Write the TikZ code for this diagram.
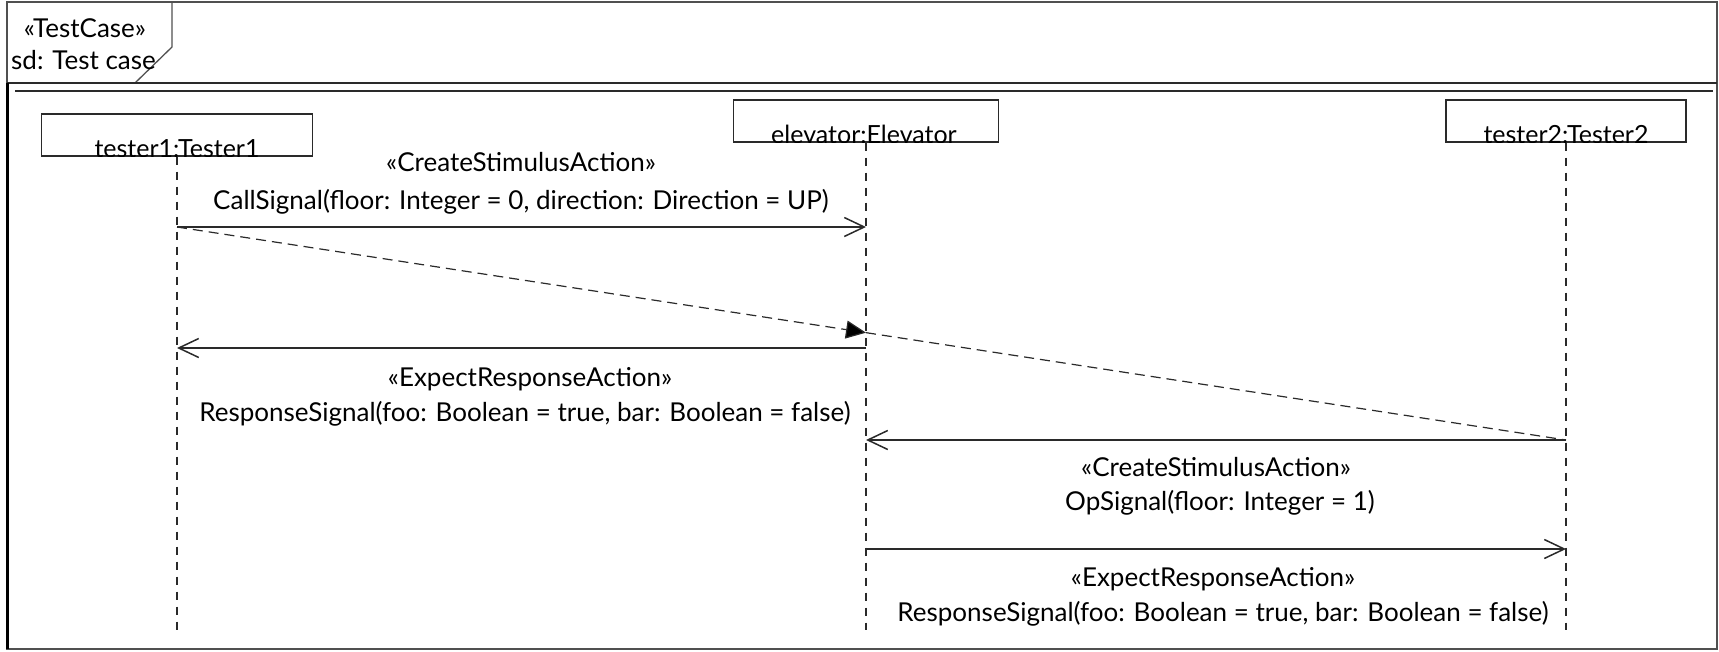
\documentclass[tikz,border=0pt]{standalone}
\usepackage{fontspec}
\setmainfont{Lato}
\usetikzlibrary{arrows.meta,calc}

\newcommand\msgfont{\fontsize{26}{31}\selectfont}
\newcommand\headfont{\fontsize{25}{30}\selectfont}
\newcommand\tabfont{\fontsize{26}{31}\selectfont}
\definecolor{linecol}{HTML}{2A2A2A}
\definecolor{framecol}{HTML}{505050}

\tikzset{
  headbox/.style={draw=linecol, line width=1.3pt, inner sep=0pt, minimum height=42pt},
  headtext/.style={font=\headfont, anchor=base, inner sep=0pt},
  lifeline/.style={draw=linecol, line width=1.3pt, dash pattern=on 8pt off 7pt},
  msg/.style={draw=linecol, line width=1.5pt, -{Straight Barb[length=20pt,width=19pt,line width=1.5pt]}},
  ordering/.style={draw=linecol, line width=1.2pt, dash pattern=on 10pt off 6pt},
  lbl/.style={font=\msgfont, anchor=base, inner sep=0pt},
  tablbl/.style={font=\tabfont, inner sep=0pt}
}

\begin{document}
\begin{tikzpicture}[x=1pt, y=-1pt]
\useasboundingbox (0,0) rectangle (1719,651);

% diagram frame with its name tab
\draw[framecol, line width=1.3pt] (7,2) rectangle (1717,649);
\draw[framecol, line width=1.3pt] (172,2) -- (172,47) -- (135,83);
\draw[linecol, line width=1.6pt] (7,83) -- (1717,83);
\draw[linecol, line width=1.4pt] (15,91) -- (1713,91);
\draw[black, line width=3pt] (7,83) -- (7,649);
\node[tablbl, anchor=base] (stereo) at (85,37) {«TestCase»};
\node[tablbl, anchor=base west] (fname) at (11,69) {sd: Test case};

% lifeline heads
\node[headbox, minimum width=271pt] (t1) at (177,135) {};
\node[headbox, minimum width=265pt] (el) at (866,121) {};
\node[headbox, minimum width=240pt] (t2) at (1566,121) {};

\begin{scope}
  \clip (t1.south west) rectangle (t1.north east);
  \node[headtext] (t1name) at (177,157) {tester1:Tester1};
\end{scope}
\begin{scope}
  \clip (el.south west) rectangle (el.north east);
  \node[headtext] (elname) at (864,143) {elevator:Elevator};
\end{scope}
\begin{scope}
  \clip (t2.south west) rectangle (t2.north east);
  \node[headtext] (t2name) at (1566,143) {tester2:Tester2};
\end{scope}

% lifelines
\coordinate (t1end) at (177,630);
\coordinate (elend) at (866,630);
\coordinate (t2end) at (1566,630);
\draw[lifeline] (t1.south) -- (t1end);
\draw[lifeline] (el.south) -- (elend);
\draw[lifeline] (t2.south) -- (t2end);

% message end points on the lifelines
\coordinate (m1a) at (177,227);
\coordinate (m1b) at (866,227);
\coordinate (m2a) at (866,348);
\coordinate (m2b) at (177,348);
\coordinate (m3a) at (1566,440);
\coordinate (m3b) at (866,440);
\coordinate (m4a) at (866,549);
\coordinate (m4b) at (1566,549);

% general ordering between the first and third messages
\coordinate (cross) at ($(m1a)!0.49604!(m3a)$);
\draw[ordering, -{Triangle[length=20pt,width=18pt,fill=black]}] (m1a) -- (cross);
\draw[ordering] (cross) -- (m3a);

% messages
\draw[msg] (m1a) -- (m1b);
\node[lbl] (m1st) at (521,171) {«CreateStimulusAction»};
\node[lbl] (m1sig) at (521,209) {CallSignal(floor: Integer = 0, direction: Direction = UP)};

\draw[msg] (m2a) -- (m2b);
\node[lbl] (m2st) at (530,386) {«ExpectResponseAction»};
\node[lbl] (m2sig) at (525,421) {ResponseSignal(foo: Boolean = true, bar: Boolean = false)};

\draw[msg] (m3a) -- (m3b);
\node[lbl] (m3st) at (1216,476) {«CreateStimulusAction»};
\node[lbl] (m3sig) at (1220,510) {OpSignal(floor: Integer = 1)};

\draw[msg] (m4a) -- (m4b);
\node[lbl] (m4st) at (1213,586) {«ExpectResponseAction»};
\node[lbl] (m4sig) at (1223,621) {ResponseSignal(foo: Boolean = true, bar: Boolean = false)};
\end{tikzpicture}
\end{document}
